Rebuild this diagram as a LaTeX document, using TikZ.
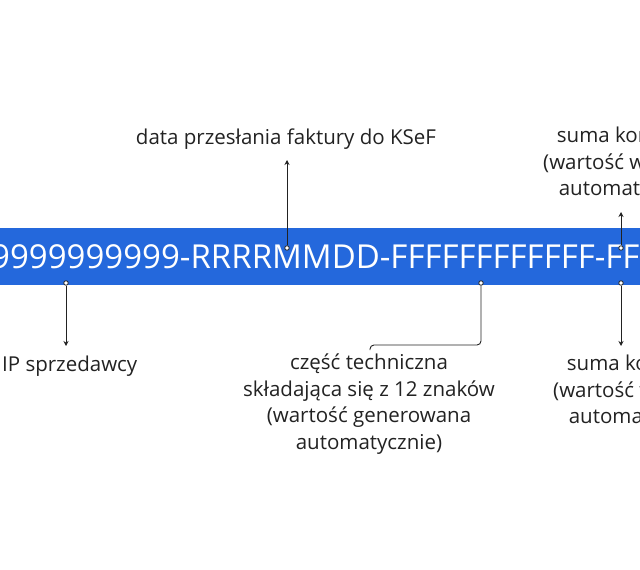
\documentclass[tikz,border=0pt]{standalone}
\usepackage{fontspec}
\setmainfont{Open Sans}
\usepackage{xcolor}
\usetikzlibrary{arrows.meta,positioning}
\definecolor{bandblue}{HTML}{2468DC}
\definecolor{ink}{HTML}{222222}
\tikzset{
  label/.style={font=\fontsize{20.5}{26.5}\selectfont, text=ink, align=center, inner sep=0pt},
  pin/.style={draw=ink, line width=0.9pt, -{Stealth[length=5pt,width=5pt]}},
  dot/.style={circle, draw=ink, fill=white, line width=0.8pt, inner sep=0pt, minimum size=4.5pt}
}
\begin{document}
\begin{tikzpicture}[x=1pt, y=-1pt]
\useasboundingbox (0,0) rectangle (640,570);
\clip (0,0) rectangle (640,570);

% Band with the number
\fill[bandblue] (-5,228) rectangle (645,285);
\node[font=\fontsize{33}{33}\selectfont, text=white, anchor=west, inner sep=0pt] (code) at (-9,257) {9999999999-RRRRMMDD-FFFFFFFFFFFF-FF};

% Dots on the band
\node[dot] (dDate) at (287,248) {};
\node[dot] (dSumTop) at (621,248) {};
\node[dot] (dNip) at (66,283) {};
\node[dot] (dTech) at (481,283) {};
\node[dot] (dSumBot) at (621,283) {};

% Labels
\node[label] (date) at (286,139) {data przesłania faktury do KSeF};
\node[label, anchor=north] (sumTop) at (632,127) {suma kontrolna\\(wartość wyliczana\\automatycznie)};
\node[label] (nip) at (62,366) {NIP sprzedawcy};
\node[label, anchor=north] (tech) at (369,354) {część techniczna\\składająca się z 12 znaków\\(wartość generowana\\automatycznie)};
\node[label, anchor=north] (sumBot) at (642,355) {suma kontrolna\\(wartość wyliczana\\automatycznie)};

% Connectors
\coordinate (tDate) at (287,160);
\coordinate (tSumTop) at (621,212);
\coordinate (tNip) at (66,346);
\coordinate (tSumBot) at (621,346);
\coordinate (tTech) at (370,350);
\draw[pin] (dDate) -- (tDate);
\draw[pin] (dSumTop) -- (tSumTop);
\draw[pin] (dNip) -- (tNip);
\draw[pin] (dSumBot) -- (tSumBot);
\draw[draw=ink, line width=0.9pt, rounded corners=4pt] (dTech) -- (481,345) -- (370,345) -- (tTech);
\end{tikzpicture}
\end{document}
